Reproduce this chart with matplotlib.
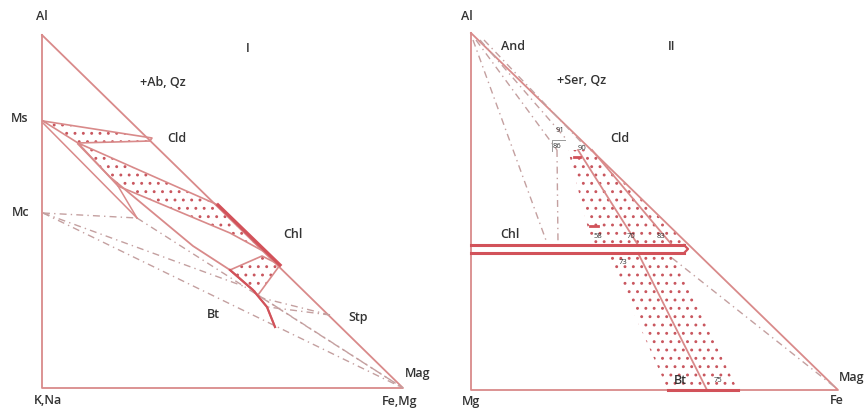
"""
Two AFM-style phase diagrams (panels I and II), redrawn in the pixel frame
of the source figure (x to the right, y downwards).
"""
import matplotlib
matplotlib.use("Agg")
import matplotlib.pyplot as plt
from matplotlib.patches import Polygon

plt.rcParams["hatch.linewidth"] = 0.9
plt.rcParams["font.family"] = ["Open Sans", "DejaVu Sans"]

RED = "#d2525a"
LINE = "#d98a8a"
DOTS = "#c9565e"
DASH = "#c4a0a0"
TXT = "#333333"

# ---- panel I ----
tri1 = [(42, 35), (42, 388), (403, 388)]
ms_wedge = [(43, 121), (152, 138), (150, 141), (78, 143)]
chl_band = [(78, 143), (218, 205), (263, 251), (230, 233), (118, 186)]
bt_quad = [(230, 270), (262, 256), (280, 265), (258, 295)]
chl_edge = [(218, 205), (280, 265)]
bt_line = [(78, 144), (110, 177), (193, 246), (230, 270), (253, 290),
           (267, 307), (275, 327)]
ms_line = [(43, 123), (137, 218)]
spike = [(118, 186), (137, 218)]
ties1 = [
    [(43, 213), (137, 218)],
    [(43, 213), (243, 286)],
    [(43, 213), (403, 388)],
    [(137, 218), (403, 388)],
    [(258, 295), (403, 388)],
    [(330, 315), (262, 298)],
    [(330, 315), (268, 307)],
]
labels1 = [
    ("Al", 42, 17), ("I", 248, 48), ("+Ab, Qz", 163, 83), ("Ms", 20, 119),
    ("Cld", 177, 139), ("Mc", 21, 213), ("Chl", 293, 234), ("Bt", 213, 314),
    ("Stp", 358, 317), ("Mag", 418, 374), ("K,Na", 48, 400), ("Fe,Mg", 400, 401),
]

# ---- panel II ----
tri2 = [(471, 33), (471, 390), (838, 390)]
chl_bar_top = [(471, 245), (684, 245)]
chl_bar_bot = [(471, 253), (684, 253)]
upper_stip = [(568, 150), (590, 150), (687, 244), (592, 244)]
lower_stip = [(608, 255), (672, 255), (738, 390), (668, 390)]
solid2 = [
    [(578, 150), (638, 245)],
    [(592, 150), (672, 245)],
    [(638, 253), (707, 390)],
]
bt_base = [(668, 390), (738, 390)]
ties2 = [
    [(473, 40), (547, 243)],
    [(476, 40), (557, 150)],
    [(557, 150), (558, 243)],
    [(480, 40), (567, 140)],
    [(484, 40), (584, 145)],
    [(672, 258), (836, 388)],
]
labels2 = [
    ("Al", 467, 17), ("And", 513, 47), ("+Ser, Qz", 582, 80), ("II", 672, 47),
    ("Cld", 620, 138), ("Chl", 510, 234), ("Mg", 471, 401), ("Fe", 837, 401),
    ("Mag", 852, 377), ("Bt", 680, 381),
]
numbers2 = [
    ("91", 560, 130), ("86", 557, 146), ("90", 582, 148), ("58", 598, 237),
    ("70", 631, 236), ("83", 661, 236), ("73", 623, 262), ("75", 718, 380),
]

fig = plt.figure(figsize=(8.65, 4.08), dpi=100)
ax = fig.add_axes([0, 0, 1, 1])
ax.set_xlim(0, 865)
ax.set_ylim(408, 0)
ax.axis("off")


def line(pts, **kw):
    xs, ys = zip(*pts)
    ax.plot(xs, ys, **kw)


def stipple(pts, edge=True):
    # dots via hatch, outline drawn separately so colours can differ
    ax.add_patch(Polygon(pts, closed=True, facecolor="none", hatch="..",
                         edgecolor=DOTS, lw=0))
    if edge:
        line(list(pts) + [pts[0]], color=LINE, lw=1.2)


for tri in (tri1, tri2):
    line(tri + [tri[0]], color=LINE, lw=1.3)

# panel I
for t in ties1:
    line(t, color=DASH, lw=1.0, ls=(0, (5, 3, 1, 3)))
stipple(ms_wedge)
stipple(chl_band)
stipple(bt_quad)
line(bt_line, color=LINE, lw=1.3)
line(ms_line, color=LINE, lw=1.1)
line(spike, color=LINE, lw=1.1)
line(chl_edge, color=RED, lw=2.4)
line(bt_line[3:], color=RED, lw=1.6)

for s, x, y in labels1:
    ax.text(x, y, s, color=TXT, fontsize=9, fontweight="semibold",
            ha="center", va="center")

# panel II
for t in ties2:
    line(t, color=DASH, lw=1.0, ls=(0, (5, 3, 1, 3)))
stipple(upper_stip, edge=False)
stipple(lower_stip, edge=False)
for s in solid2:
    line(s, color=LINE, lw=1.3)
line(chl_bar_top, color=RED, lw=2.2)
line(chl_bar_bot, color=RED, lw=2.2)
line([chl_bar_top[1], (688, 249), chl_bar_bot[1]], color=RED, lw=1.6)
line(bt_base, color=RED, lw=2.2)
line([(552, 151), (552, 140), (565, 140)], color="#999999", lw=0.7)
line([(574, 157), (580, 157)], color=RED, lw=2.0)
line([(590, 226), (598, 226)], color=RED, lw=2.0)

for s, x, y in labels2:
    ax.text(x, y, s, color=TXT, fontsize=9, fontweight="semibold",
            ha="center", va="center")
for s, x, y in numbers2:
    ax.text(x, y, s, color=TXT, fontsize=5.5, ha="center", va="center",
            zorder=5)

fig.savefig("out.png", dpi=100)
